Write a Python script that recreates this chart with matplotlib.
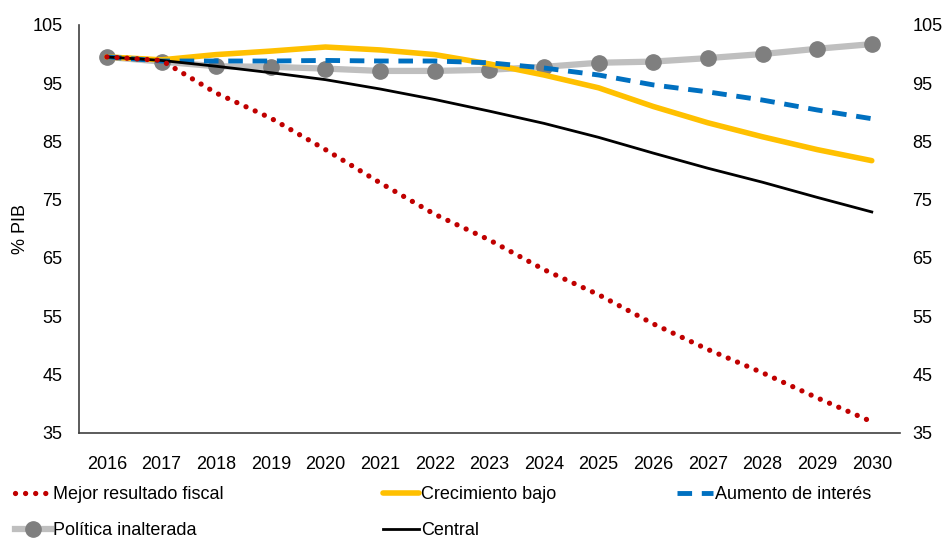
import matplotlib.pyplot as plt

plt.rcParams['font.family'] = ['Liberation Sans', 'DejaVu Sans']

years = list(range(2016, 2031))

mejor_fiscal = [99.5, 98.9, 93.3, 89.0, 83.6, 77.9, 72.5, 68.1, 63.0, 58.7, 53.7, 49.3, 45.3, 41.0, 36.9]
crecimiento_bajo = [99.5, 99.0, 99.9, 100.5, 101.2, 100.7, 99.9, 98.3, 96.4, 94.2, 91.0, 88.2, 85.8, 83.6, 81.7]
aumento_interes = [99.5, 98.8, 98.8, 98.8, 98.9, 98.8, 98.8, 98.5, 97.6, 96.4, 94.7, 93.5, 92.1, 90.4, 88.9]
politica_inalterada = [99.5, 98.7, 97.9, 97.8, 97.5, 97.1, 97.1, 97.3, 97.8, 98.5, 98.7, 99.3, 100.0, 100.9, 101.7]
central = [99.5, 98.9, 97.9, 96.8, 95.6, 94.0, 92.2, 90.2, 88.1, 85.7, 83.0, 80.4, 78.0, 75.4, 72.9]

yticks = [35, 45, 55, 65, 75, 85, 95, 105]

fig = plt.figure(figsize=(9.52, 5.41), dpi=100)
ax = fig.add_axes([0.083, 0.2, 0.862, 0.754])

l_politica, = ax.plot(years, politica_inalterada, color='#BFBFBF', lw=4.5, marker='o',
                      markersize=11, markerfacecolor='#7F7F7F', markeredgecolor='#7F7F7F',
                      label='Política inalterada', zorder=2)
l_crec, = ax.plot(years, crecimiento_bajo, color='#FFC000', lw=4, label='Crecimiento bajo',
                  solid_capstyle='round', zorder=3)
l_aum, = ax.plot(years, aumento_interes, color='#0070C0', lw=3.5, ls=(0, (3, 2)),
                 label='Aumento de interés', zorder=4)
l_central, = ax.plot(years, central, color='black', lw=2, label='Central', zorder=5)
l_mejor, = ax.plot(years, mejor_fiscal, color='#C00000', lw=3.8, ls=(0, (0.01, 1.9)),
                   dash_capstyle='round', label='Mejor resultado fiscal', zorder=6)

ax.set_xlim(2015.49, 2030.51)
ax.set_ylim(35, 105)
ax.set_xticks(years)
ax.set_yticks(yticks)
ax.tick_params(axis='y', length=0, labelsize=13, pad=12)
ax.tick_params(axis='x', length=0, labelsize=13, pad=17)
ax.set_ylabel('% PIB', fontsize=13, labelpad=2)

ax.spines['top'].set_visible(False)
ax.spines['right'].set_visible(False)
for s in ['left', 'bottom']:
    ax.spines[s].set_linewidth(1.2)
    ax.spines[s].set_color('#404040')

ax2 = ax.twinx()
ax2.set_ylim(35, 105)
ax2.set_yticks(yticks)
ax2.tick_params(length=0, labelsize=13, pad=9)
for s in ax2.spines.values():
    s.set_visible(False)

# three legend columns placed like the original
columns = [([l_mejor, l_politica], 15), ([l_crec, l_central], 383), ([l_aum], 677)]
for handles, xpix in columns:
    fig.legend(handles, [h.get_label() for h in handles], loc='upper left',
               bbox_to_anchor=(xpix / 952, 1 - 486 / 541), frameon=False, fontsize=13,
               handlelength=2.0, handletextpad=0.1, labelspacing=1.05, borderpad=0,
               borderaxespad=0)

fig.savefig('out.png', dpi=100)
